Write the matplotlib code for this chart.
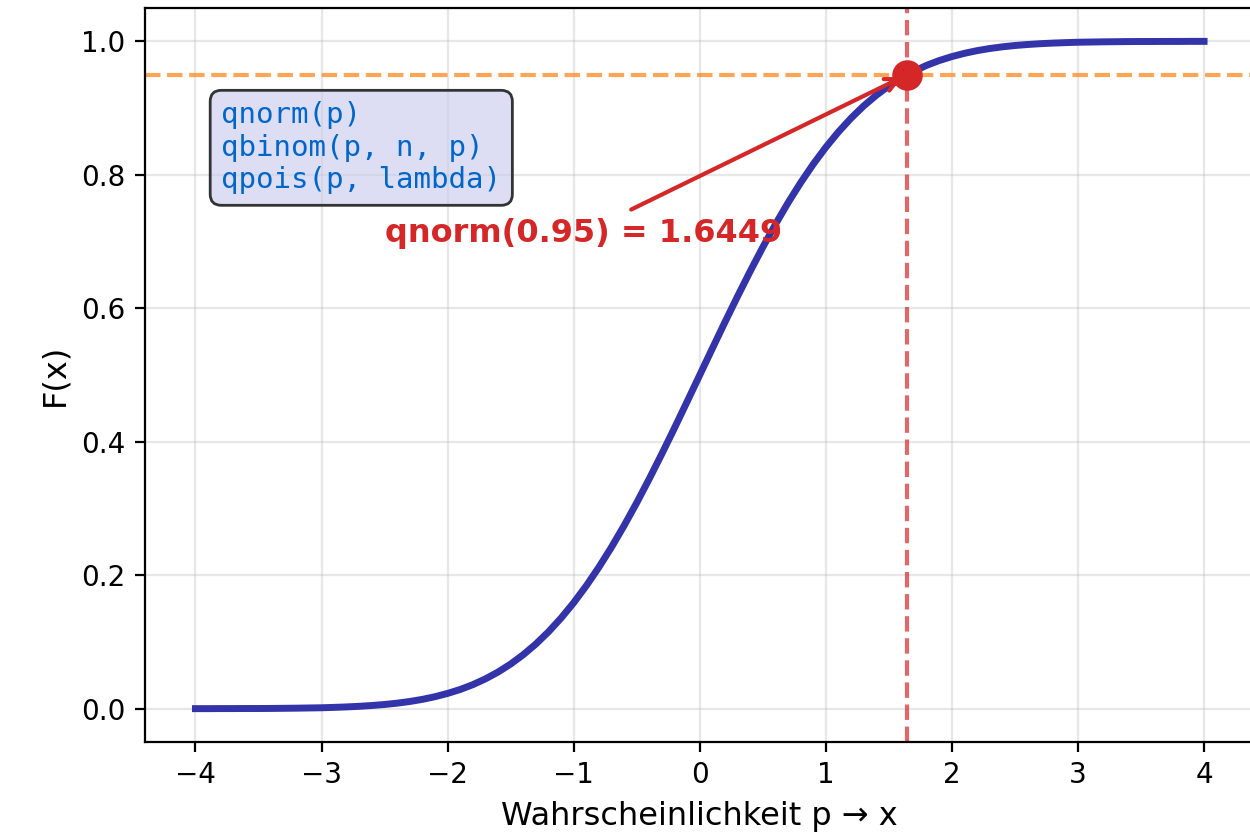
import matplotlib
matplotlib.use("Agg")
import matplotlib.pyplot as plt

# values, x from -4 to 4 in steps of 0.1
x_vals = [round(-4.0 + 0.1 * i, 1) for i in range(81)]
F_vals = [0.0000, 0.0000, 0.0001, 0.0001, 0.0002, 0.0002, 0.0003, 0.0005, 0.0007, 0.0010,
          0.0013, 0.0019, 0.0026, 0.0035, 0.0047, 0.0062, 0.0082, 0.0107, 0.0139, 0.0179,
          0.0228, 0.0287, 0.0359, 0.0446, 0.0548, 0.0668, 0.0808, 0.0968, 0.1151, 0.1357,
          0.1587, 0.1841, 0.2119, 0.2420, 0.2743, 0.3085, 0.3446, 0.3821, 0.4207, 0.4602,
          0.5000,
          0.5398, 0.5793, 0.6179, 0.6554, 0.6915, 0.7257, 0.7580, 0.7881, 0.8159, 0.8413,
          0.8643, 0.8849, 0.9032, 0.9192, 0.9332, 0.9452, 0.9554, 0.9641, 0.9713, 0.9772,
          0.9821, 0.9861, 0.9893, 0.9918, 0.9938, 0.9953, 0.9965, 0.9974, 0.9981, 0.9987,
          0.9990, 0.9993, 0.9995, 0.9997, 0.9998, 0.9998, 0.9999, 0.9999, 1.0000, 1.0000]

p_level = 0.95
q_value = 1.6449
box_text = "qnorm(p)\nqbinom(p, n, p)\nqpois(p, lambda)"
annot_text = "qnorm(0.95) = 1.6449"

fig = plt.figure(figsize=(6.25, 4.16), dpi=200)
ax = fig.add_axes([145 / 1250, 1 - 742 / 832, 1109.5 / 1250, 734 / 832])

ax.plot(x_vals, F_vals, color="#3333aa", lw=2.5)
ax.axhline(p_level, color="#ff7f0e", ls="--", lw=1.5, alpha=0.7)
ax.axvline(q_value, color="#d62728", ls="--", lw=1.5, alpha=0.7)
ax.plot([q_value], [p_level], "o", color="#d62728", ms=10)

ax.annotate(annot_text, xy=(q_value, p_level), xytext=(-2.5, 0.70),
            color="#d62728", fontsize=11.5, fontweight="bold",
            arrowprops=dict(arrowstyle="->", color="#d62728", lw=1.5))

ax.text(-3.795, 0.910, box_text, family="monospace", fontsize=10.5,
        color="#0066cc", va="top", ha="left",
        bbox=dict(boxstyle="round,pad=0.38", facecolor=(0.78, 0.79, 0.92, 0.6),
                  edgecolor="#333333", lw=1))

ax.set_xlim(-4.4, 4.4)
ax.set_ylim(-0.05, 1.05)
ax.set_xlabel("Wahrscheinlichkeit p → x", fontsize=11.5)
ax.set_ylabel("F(x)", fontsize=11.5)
ax.grid(True, alpha=0.3)

fig.savefig("out.png", dpi=200)
